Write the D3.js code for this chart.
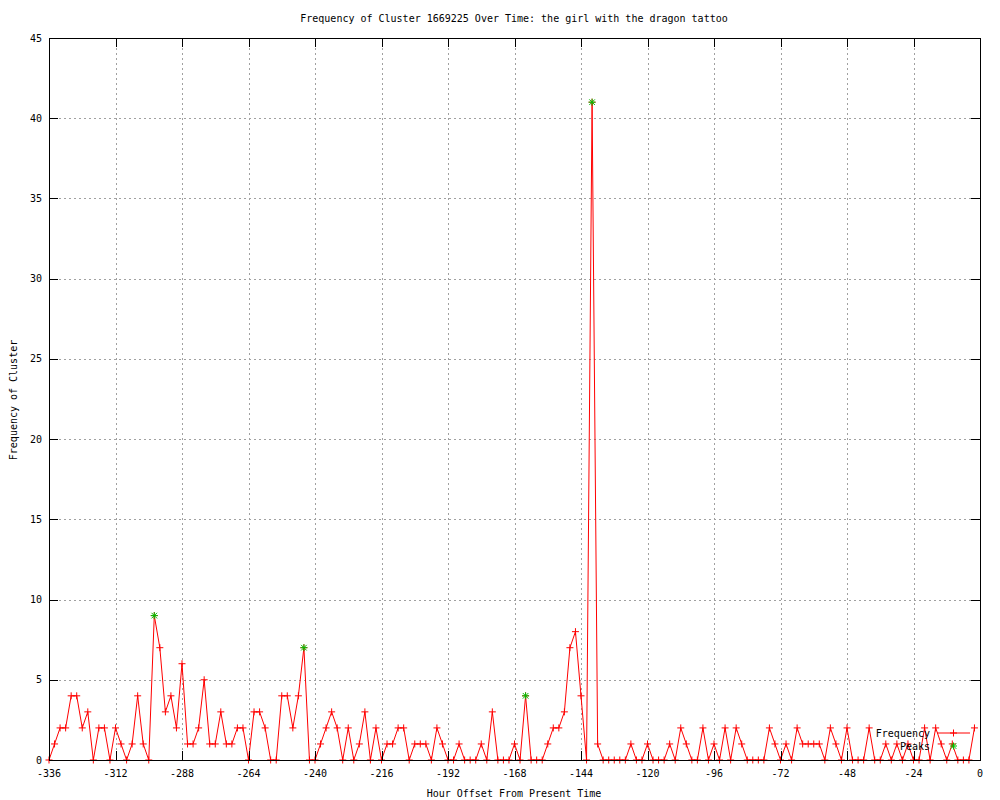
<!DOCTYPE html>
<html>
<head>
<meta charset="utf-8">
<script src="https://cdn.jsdelivr.net/npm/d3@7"></script>
<style>
body { margin: 0; background: #fff; }
text { font-family: "DejaVu Sans Mono", monospace; font-size: 10px; fill: #000; }
</style>
</head>
<body>
<div id="chart"></div>
<script>
var title = "Frequency of Cluster 1669225 Over Time: the girl with the dragon tattoo";
var xLabel = "Hour Offset From Present Time";
var yLabel = "Frequency of Cluster";

// one sample every 2 hours, -336 .. -2
var hours = d3.range(-336, 0, 2);
var frequency = [
    0, 1, 2, 2, 4, 4, 2, 3, 0, 2, 2, 0, 2, 1, 0, 1, 4, 1, 0, 9,
    7, 3, 4, 2, 6, 1, 1, 2, 5, 1, 1, 3, 1, 1, 2, 2, 0, 3, 3, 2,
    0, 0, 4, 4, 2, 4, 7, 0, 0, 1, 2, 3, 2, 0, 2, 0, 1, 3, 0, 2,
    0, 1, 1, 2, 2, 0, 1, 1, 1, 0, 2, 1, 0, 0, 1, 0, 0, 0, 1, 0,
    3, 0, 0, 0, 1, 0, 4, 0, 0, 0, 1, 2, 2, 3, 7, 8, 4, 0, 41, 1,
    0, 0, 0, 0, 0, 1, 0, 0, 1, 0, 0, 0, 1, 0, 2, 1, 0, 0, 2, 0,
    1, 0, 2, 0, 2, 1, 0, 0, 0, 0, 2, 1, 0, 1, 0, 2, 1, 1, 1, 1,
    0, 2, 1, 0, 2, 0, 0, 0, 2, 0, 0, 1, 0, 1, 0, 1, 0, 0, 2, 0,
    2, 1, 0, 1, 0, 0, 0, 2
];
var peakHours = [-298, -244, -164, -140];
var peakValues = [9, 7, 4, 41];

var xTicks = [-336, -312, -288, -264, -240, -216, -192, -168, -144, -120, -96, -72, -48, -24, 0];
var yTicks = [0, 5, 10, 15, 20, 25, 30, 35, 40, 45];

// plot box (window.top is read-only, so no bare "top")
var boxLeft = 49, boxRight = 980, boxTop = 38, boxBottom = 760;
var tickLen = 9;

var svg = d3.select("#chart").append("svg")
    .attr("width", 1000)
    .attr("height", 800);

var x = d3.scaleLinear().domain([-336, 0]).range([boxLeft, boxRight]);
var y = d3.scaleLinear().domain([0, 45]).range([boxBottom, boxTop]);

// dotted grid
var grid = svg.append("g")
    .style("stroke", "#a0a0a0")
    .style("stroke-dasharray", "2,3")
    .attr("shape-rendering", "crispEdges");

grid.selectAll()
    .data(xTicks.slice(1, -1))
    .enter().append("line")
    .attr("x1", function(d) { return Math.round(x(d)) + 0.5; })
    .attr("x2", function(d) { return Math.round(x(d)) + 0.5; })
    .attr("y1", boxTop)
    .attr("y2", boxBottom);

grid.selectAll()
    .data(yTicks.slice(1, -1))
    .enter().append("line")
    .attr("x1", boxLeft)
    .attr("x2", boxRight)
    .attr("y1", function(d) { return Math.round(y(d)) + 0.5; })
    .attr("y2", function(d) { return Math.round(y(d)) + 0.5; });

function plus(cx, cy, r)
{
    return "M" + (cx - r) + "," + cy + "H" + (cx + r) + "M" + cx + "," + (cy - r) + "V" + (cy + r);
}
function star(cx, cy, r)
{
    var k = r * 0.8;
    return plus(cx, cy, r) +
        "M" + (cx - k) + "," + (cy - k) + "L" + (cx + k) + "," + (cy + k) +
        "M" + (cx - k) + "," + (cy + k) + "L" + (cx + k) + "," + (cy - k);
}

// frequency series
var line = d3.line()
    .x(function(d, i) { return x(hours[i]); })
    .y(function(d) { return y(d); });

svg.append("path")
    .datum(frequency)
    .attr("d", line)
    .style("fill", "none")
    .style("stroke", "#ff0000")
    .style("stroke-width", 1);

svg.append("g").selectAll()
    .data(frequency)
    .enter().append("path")
    .attr("d", function(d, i) { return plus(x(hours[i]), y(d), 3.5); })
    .style("stroke", "#ff0000")
    .style("stroke-width", 1);

// peaks
svg.append("g").selectAll()
    .data(peakValues)
    .enter().append("path")
    .attr("d", function(d, i) { return star(x(peakHours[i]), y(d), 3.5); })
    .style("stroke", "#00c000")
    .style("stroke-width", 1);

// border and ticks
var axes = svg.append("g")
    .style("stroke", "#000")
    .style("fill", "none")
    .attr("shape-rendering", "crispEdges");

axes.append("rect")
    .attr("x", boxLeft + 0.5)
    .attr("y", boxTop + 0.5)
    .attr("width", boxRight - boxLeft)
    .attr("height", boxBottom - boxTop);

axes.selectAll()
    .data(xTicks)
    .enter().append("path")
    .attr("d", function(d) {
        var px = Math.round(x(d)) + 0.5;
        return "M" + px + "," + boxBottom + "V" + (boxBottom - tickLen) + "M" + px + "," + boxTop + "V" + (boxTop + tickLen);
    });

axes.selectAll()
    .data(yTicks)
    .enter().append("path")
    .attr("d", function(d) {
        var py = Math.round(y(d)) + 0.5;
        return "M" + boxLeft + "," + py + "H" + (boxLeft + tickLen) + "M" + boxRight + "," + py + "H" + (boxRight - tickLen);
    });

// tick labels
svg.append("g").selectAll()
    .data(xTicks)
    .enter().append("text")
    .attr("x", function(d) { return x(d); })
    .attr("y", 777)
    .attr("text-anchor", "middle")
    .text(function(d) { return d; });

svg.append("g").selectAll()
    .data(yTicks)
    .enter().append("text")
    .attr("x", 42)
    .attr("y", function(d) { return y(d) + 3.5; })
    .attr("text-anchor", "end")
    .text(function(d) { return d; });

// titles
svg.append("text")
    .attr("x", 514)
    .attr("y", 22)
    .attr("text-anchor", "middle")
    .text(title);

svg.append("text")
    .attr("x", 514)
    .attr("y", 797)
    .attr("text-anchor", "middle")
    .text(xLabel);

svg.append("text")
    .attr("transform", "translate(17,400) rotate(-90)")
    .attr("text-anchor", "middle")
    .text(yLabel);

// legend
var legend = svg.append("g");

legend.append("text")
    .attr("x", 930)
    .attr("y", 736.5)
    .attr("text-anchor", "end")
    .text("Frequency");

legend.append("path")
    .attr("d", "M937,733H970" + plus(953.5, 733, 3.5))
    .style("stroke", "#ff0000")
    .style("fill", "none");

legend.append("text")
    .attr("x", 930)
    .attr("y", 749.5)
    .attr("text-anchor", "end")
    .text("Peaks");

legend.append("path")
    .attr("d", star(953.5, 746, 3.5))
    .style("stroke", "#00c000")
    .style("fill", "none");
</script>
</body>
</html>
